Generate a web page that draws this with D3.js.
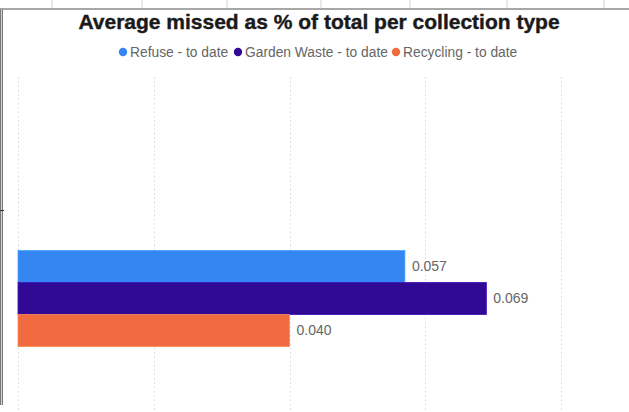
<!DOCTYPE html>
<html>
<head>
<meta charset="utf-8">
<script src="https://cdn.jsdelivr.net/npm/d3@7"></script>
<style>
  body { margin: 0; background: #fff; }
  svg { display: block; font-family: "Liberation Sans", Arial, sans-serif; }
</style>
</head>
<body>
<div id="chart"></div>
<script>
// data
var categories = ["to date"];
var seriesNames = ["Refuse - to date", "Garden Waste - to date", "Recycling - to date"];
var seriesValues = [0.057, 0.069, 0.040];
var seriesColors = ["#3586f3", "#300a95", "#f06c40"];
var xTicks = [0, 0.02, 0.04, 0.06, 0.08];
var sheetCols = [52, 142, 227, 321, 410, 507, 604]; // spreadsheet cell borders behind the chart

var svgWidth = 629;
var svgHeight = 412;

var svg = d3.select("#chart")
    .append("svg")
    .attr("width", svgWidth)
    .attr("height", svgHeight);

// spreadsheet bits showing round the chart
svg.selectAll(".col")
    .data(sheetCols)
    .enter()
    .append("line")
    .attr("x1", d => d).attr("x2", d => d)
    .attr("y1", 0).attr("y2", 8)
    .attr("stroke", "#d4d4d4");

svg.append("line")
    .attr("x1", 0).attr("x2", svgWidth)
    .attr("y1", 9).attr("y2", 9)
    .attr("stroke", "#8a8a8a").attr("stroke-width", 1.5);

svg.append("rect")
    .attr("x", 0).attr("y", 9)
    .attr("width", 3).attr("height", 396)
    .attr("fill", "#7a7a7a");
svg.append("rect")
    .attr("x", 1).attr("y", 9)
    .attr("width", 1).attr("height", 396)
    .attr("fill", "#cfcfcf");
svg.append("line")
    .attr("x1", 0).attr("x2", 4)
    .attr("y1", 210.5).attr("y2", 210.5)
    .attr("stroke", "#333");

// title
svg.append("text")
    .attr("x", 319)
    .attr("y", 29)
    .attr("text-anchor", "middle")
    .attr("font-weight", "bold")
    .style("font-size", "21px")
    .attr("fill", "#1a1a1a")
    .attr("stroke", "#1a1a1a")
    .attr("stroke-width", 0.4)
    .text("Average missed as % of total per collection type");

// legend
var legendX = [123, 238, 396];
var legend = svg.selectAll(".legend")
    .data(seriesNames)
    .enter()
    .append("g")
    .attr("transform", (d, i) => `translate(${legendX[i]}, 52)`);

legend.append("circle")
    .attr("r", 4.2)
    .attr("fill", (d, i) => seriesColors[i]);

legend.append("text")
    .attr("x", 7)
    .attr("dy", "0.35em")
    .style("font-size", "13.8px")
    .attr("fill", "#666")
    .text(d => d);

// scales
var xScale = d3.scaleLinear()
    .domain([0, 0.08])
    .range([18, 561]);

var yOuter = d3.scaleBand()
    .domain(categories)
    .range([77, 520])
    .paddingOuter(1.807);

var yInner = d3.scaleBand()
    .domain(d3.range(seriesValues.length))
    .range([0, yOuter.bandwidth()]);

// gridlines
svg.selectAll(".grid")
    .data(xTicks)
    .enter()
    .append("line")
    .attr("x1", d => Math.round(xScale(d)) + 0.5)
    .attr("x2", d => Math.round(xScale(d)) + 0.5)
    .attr("y1", 77)
    .attr("y2", svgHeight)
    .attr("stroke", "#d8d8d8")
    .attr("stroke-dasharray", "1.5,2.8");

// bars
var g = svg.append("g")
    .attr("transform", `translate(0, ${yOuter(categories[0])})`);

g.selectAll(".bar")
    .data(seriesValues)
    .enter()
    .append("rect")
    .attr("x", xScale(0))
    .attr("y", (d, i) => yInner(i))
    .attr("width", d => xScale(d) - xScale(0))
    .attr("height", yInner.bandwidth())
    .attr("fill", (d, i) => seriesColors[i])
    .attr("stroke", (d, i) => d3.color(seriesColors[i]).brighter(0.6))
    .attr("stroke-width", 0.8);

g.selectAll(".val")
    .data(seriesValues)
    .enter()
    .append("text")
    .attr("x", d => xScale(d) + 7)
    .attr("y", (d, i) => yInner(i) + yInner.bandwidth() / 2)
    .attr("dy", "0.35em")
    .style("font-size", "14px")
    .attr("fill", "#666")
    .text(d => d3.format(".3f")(d));
</script>
</body>
</html>
